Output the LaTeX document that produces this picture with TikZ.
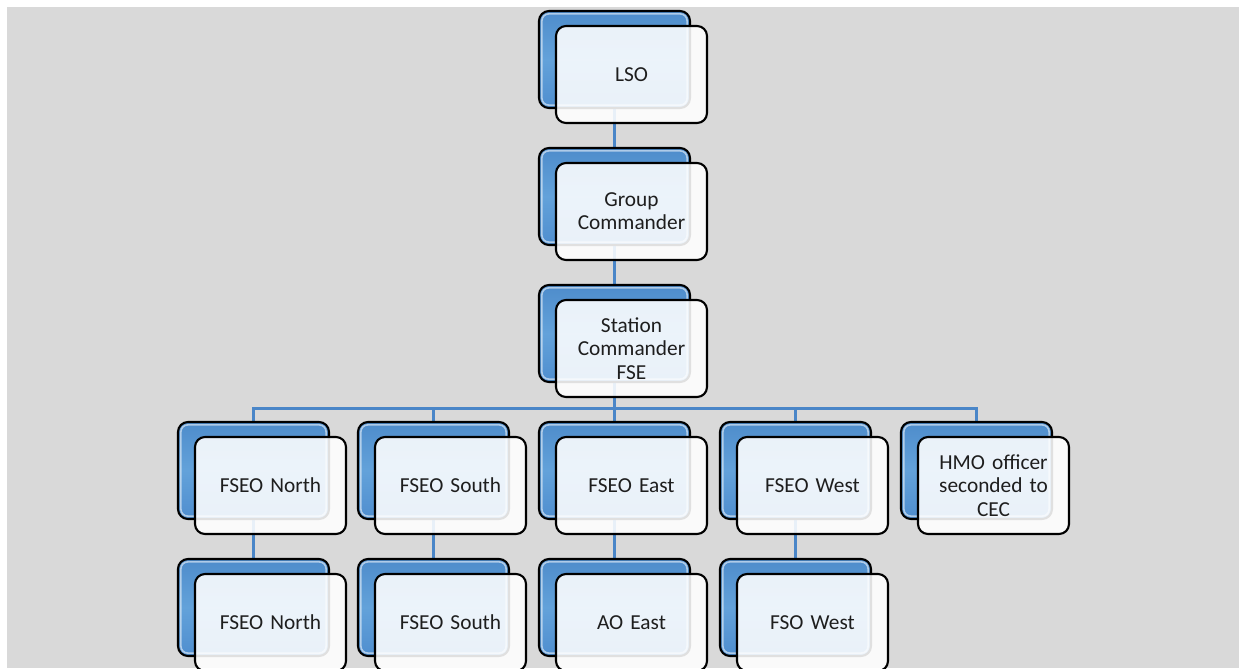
\documentclass[tikz,border=0pt]{standalone}
\usepackage{fontspec}
\setmainfont{Carlito}
\usetikzlibrary{calc}
\definecolor{bggray}{HTML}{D9D9D9}
\definecolor{linkblue}{HTML}{4A86C8}
\definecolor{boxtop}{HTML}{4E8CCB}
\definecolor{boxmid}{HTML}{63A2DA}
\definecolor{boxbot}{HTML}{4F8ECF}
\definecolor{txt}{HTML}{1E1E1E}
\tikzset{
  slot/.style={minimum width=113.25pt, minimum height=72.75pt, inner sep=0pt},
  backbox/.style={slot, draw=black, line width=1.6pt, rounded corners=7.5pt,
    top color=boxtop, bottom color=boxbot, middle color=boxmid},
  frontbox/.style={slot, draw=black, line width=1.6pt, rounded corners=7.5pt,
    fill=white, fill opacity=0.88, text opacity=1, draw opacity=1,
    inner sep=2pt, align=center, text width=105pt, text=txt,
    font=\fontsize{16}{17.4}\selectfont},
  link/.style={draw=linkblue, line width=2.2pt},
  bevel/.style={draw=white, draw opacity=0.55, line width=1.2pt, rounded corners=5pt}
}
\newcommand{\pairbox}[4]{% name, back center x, back center y, text
  \node[backbox] (#1b) at (#2,#3) {};
  \draw[bevel] ($(#1b.south west)+(4,-4)$) rectangle ($(#1b.north east)+(-4,4)$);
  \node[frontbox] (#1) at ($(#1b.center)+(17,15)$) {#4};
}
\begin{document}
\begin{tikzpicture}[x=0.75pt,y=-0.75pt]
\useasboundingbox (0,0) rectangle (1239,668);
\clip (0,0) rectangle (1239,668);
\fill[bggray] (7,7) rectangle (1239,668);
% placeholders for connector anchors
\node[slot] (lsoP) at (614.5,59.5) {};
\node[slot] (gcP) at (614.5,196.5) {};
\node[slot] (scP) at (614.5,333.5) {};
\node[slot] (naP) at (253.5,470.5) {};
\node[slot] (saP) at (433.5,470.5) {};
\node[slot] (eaP) at (614.5,470.5) {};
\node[slot] (waP) at (795.5,470.5) {};
\node[slot] (haP) at (976.5,470.5) {};
\node[slot] (nbP) at (253.5,607.5) {};
\node[slot] (sbP) at (433.5,607.5) {};
\node[slot] (ebP) at (614.5,607.5) {};
\node[slot] (wbP) at (795.5,607.5) {};
% connectors
\draw[link] (lsoP.south) -- (gcP.north);
\draw[link] (gcP.south) -- (scP.north);
\foreach \n in {naP,saP,eaP,waP,haP}{
  \draw[link] (\n.north) -- ++(0,-13) -| (scP.south);
}
\draw[link] (naP.south) -- (nbP.north);
\draw[link] (saP.south) -- (sbP.north);
\draw[link] (eaP.south) -- (ebP.north);
\draw[link] (waP.south) -- (wbP.north);
% box pairs
\pairbox{lso}{614.5}{59.5}{LSO}
\pairbox{gc}{614.5}{196.5}{Group\\Commander}
\pairbox{sc}{614.5}{333.5}{Station\\Commander\\FSE}
\pairbox{na}{253.5}{470.5}{FSEO North}
\pairbox{sa}{433.5}{470.5}{FSEO South}
\pairbox{ea}{614.5}{470.5}{FSEO East}
\pairbox{wa}{795.5}{470.5}{FSEO West}
\pairbox{ha}{976.5}{470.5}{HMO officer\\seconded to\\CEC}
\pairbox{nb}{253.5}{607.5}{FSEO North}
\pairbox{sb}{433.5}{607.5}{FSEO South}
\pairbox{eb}{614.5}{607.5}{AO East}
\pairbox{wb}{795.5}{607.5}{FSO West}
\end{tikzpicture}
\end{document}
